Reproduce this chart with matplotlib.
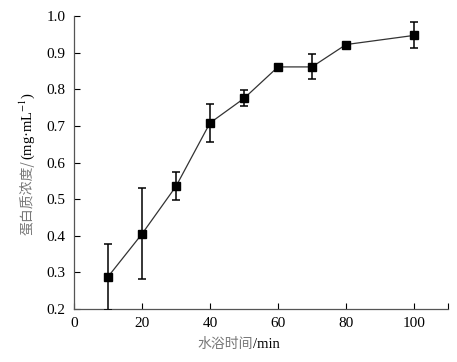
import matplotlib
matplotlib.use("Agg")
import matplotlib.pyplot as plt

# data
time_min = [10, 20, 30, 40, 50, 60, 70, 80, 100]
protein = [0.288, 0.405, 0.535, 0.708, 0.775, 0.861, 0.861, 0.922, 0.947]
err_up = [0.090, 0.125, 0.038, 0.052, 0.022, 0.0, 0.035, 0.0, 0.036]
err_dn = [0.090, 0.123, 0.037, 0.051, 0.022, 0.0, 0.034, 0.0, 0.035]
xticks = [0, 20, 40, 60, 80, 100, 110]
xticklabels = ["0", "20", "40", "60", "80", "100", ""]
yticks = [0.2, 0.3, 0.4, 0.5, 0.6, 0.7, 0.8, 0.9, 1.0]

plt.rcParams["font.family"] = ["Liberation Serif", "Noto Sans CJK SC"]
plt.rcParams["mathtext.fontset"] = "stix"

W, H = 457, 362
fig = plt.figure(figsize=(W / 100, H / 100), dpi=100)
ax = fig.add_axes([74 / W, 1 - 309 / H, (448 - 74) / W, (309 - 16) / H])

ax.plot(time_min, protein, color="#333333", linewidth=0.9, zorder=2)
ax.errorbar(time_min, protein, yerr=[err_dn, err_up], fmt="none",
            ecolor="black", elinewidth=1.1, capsize=3, capthick=1.1, zorder=3)
ax.plot(time_min, protein, linestyle="none", marker="s", markersize=5.8,
        color="black", zorder=4)

ax.set_xlim(0, 110)
ax.set_ylim(0.2, 1.0)
ax.set_xticks(xticks)
ax.set_xticklabels(xticklabels)
ax.set_yticks(yticks)
ax.set_yticklabels([f"{v:.1f}" for v in yticks])
ax.tick_params(direction="in", length=4, width=0.8, labelsize=11, pad=6)
ax.spines[["top", "right"]].set_visible(False)
for s in ("left", "bottom"):
    ax.spines[s].set_color("#555555")
    ax.spines[s].set_linewidth(0.9)

# axis labels: Chinese in grey, units in black
fig.text(253 / W, 1 - 344 / H, "水浴时间", ha="right", va="center",
         fontsize=10, color="#777777", family=["Noto Sans CJK SC"])
fig.text(253 / W, 1 - 344 / H, "/min", ha="left", va="center",
         fontsize=10.5, color="black")
ysplit = 1 - 160 / H
fig.text(27 / W, ysplit, "蛋白质浓度/", rotation=90, ha="center", va="top",
         fontsize=10, color="#777777", family=["Noto Sans CJK SC"])
fig.text(27 / W, ysplit, "(mg·mL$^{-1}$)", rotation=90, ha="center",
         va="bottom", fontsize=10.5, color="black")

fig.savefig("out.png", dpi=100)
